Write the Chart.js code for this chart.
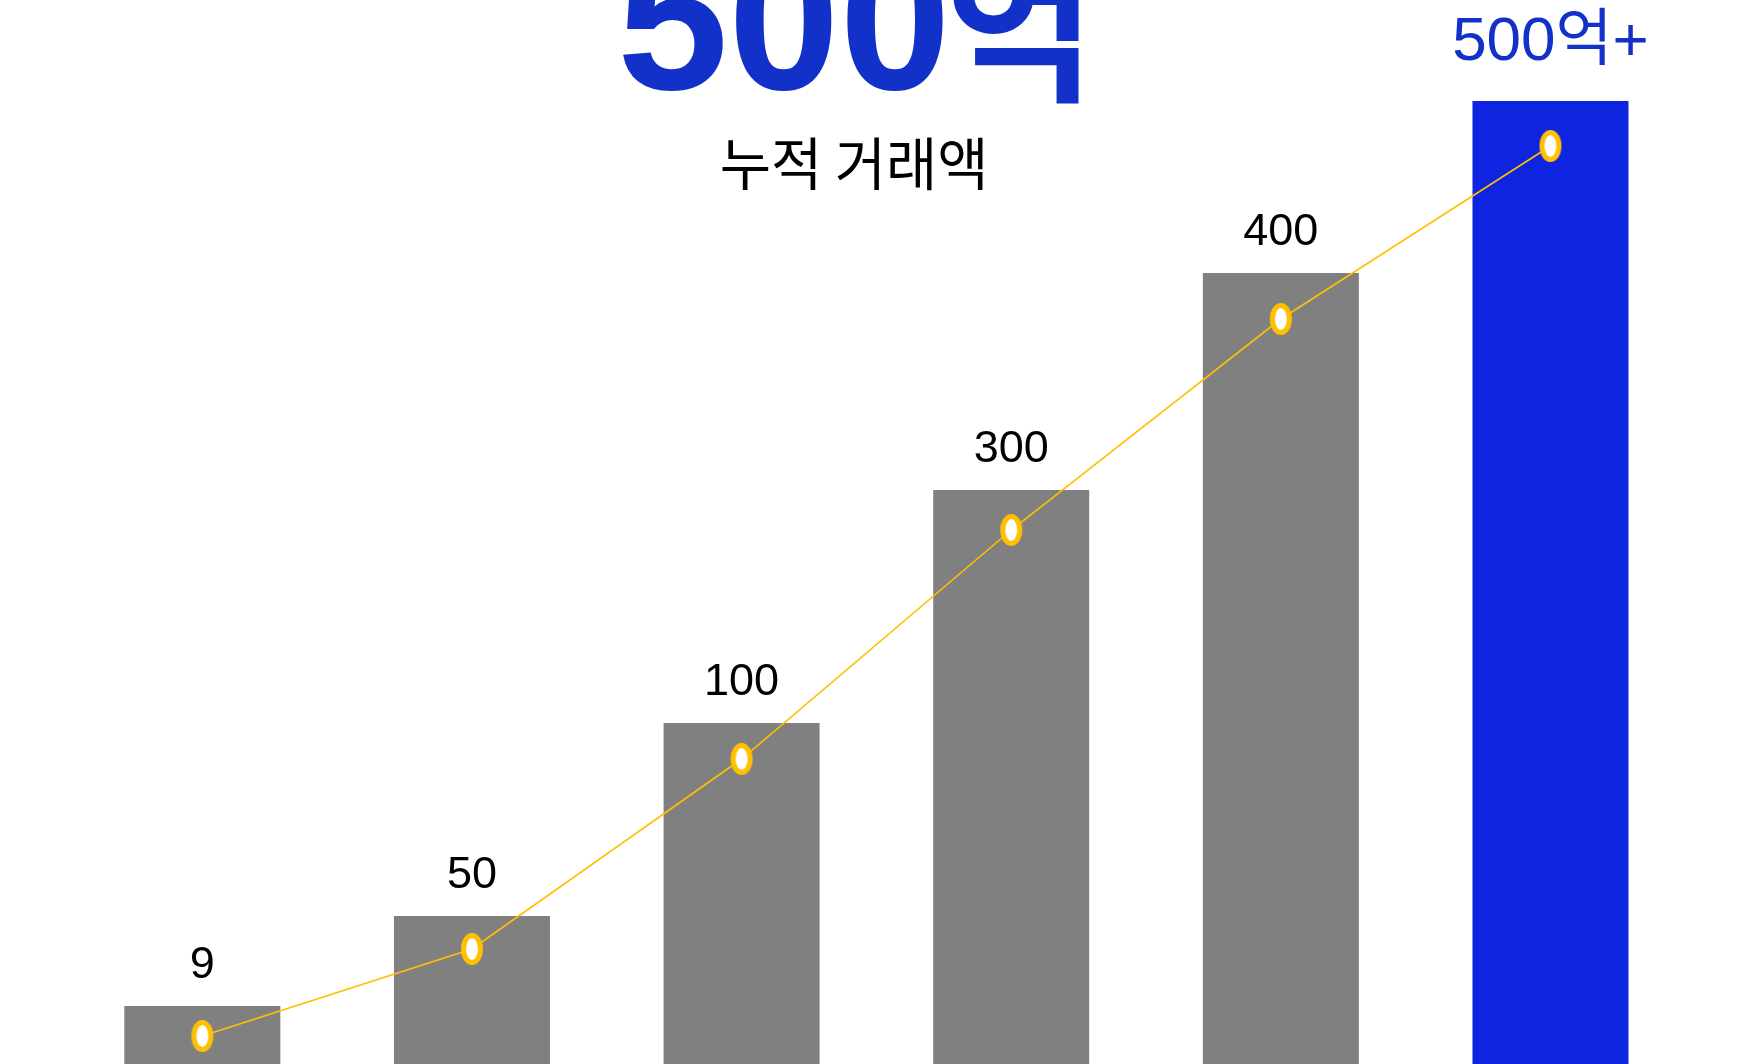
<!DOCTYPE html>
<html>
<head>
<meta charset="utf-8">
<script src="https://cdn.jsdelivr.net/npm/chart.js@4"></script>
<style>
  html, body { margin: 0; padding: 0; background: #ffffff; overflow: hidden; }
  #wrap { width: 1755px; height: 1064px; position: relative; }
  canvas { display: block; }
</style>
</head>
<body>
<div id="wrap"><canvas id="c" width="1755" height="1064"></canvas></div>
<script>
// ---- data ----
const categories = ['1', '2', '3', '4', '5', '6'];
const barHeights = [58, 148, 341, 574, 791, 963];      // bar heights (picture units)
const lineValues = [28, 115, 305, 534, 745, 918];      // trend line points
const barLabels = ['9', '50', '100', '300', '400', '500억+'];
const titleNumber = '500';
const titleUnit = '억';
const subtitleText = '누적 거래액';

// ---- styles ----
const GRAY = '#808080';
const BAR_BLUE = '#0E24E0';
const TEXT_BLUE = '#1131C9';
const YELLOW = '#FFC000';

// ellipse point marker
function makeMarker() {
  const cv = document.createElement('canvas');
  cv.width = 24; cv.height = 36;
  const g = cv.getContext('2d');
  g.beginPath();
  g.ellipse(12, 18, 8.5, 13.5, 0, 0, Math.PI * 2);
  g.fillStyle = '#ffffff';
  g.fill();
  g.lineWidth = 5;
  g.strokeStyle = YELLOW;
  g.stroke();
  return cv;
}
const marker = makeMarker();

const labelPlugin = {
  id: 'barLabels',
  afterDatasetsDraw(chart) {
    const ctx = chart.ctx;
    const meta = chart.getDatasetMeta(1);
    ctx.save();
    ctx.textAlign = 'center';
    ctx.textBaseline = 'alphabetic';
    meta.data.forEach((bar, i) => {
      const last = i === barLabels.length - 1;
      if (last) {
        ctx.font = '62px "Liberation Sans", "Noto Sans CJK KR", sans-serif';
        ctx.fillStyle = TEXT_BLUE;
        ctx.fillText(barLabels[i], bar.x, bar.y - 41);
      } else {
        ctx.font = '45px "Liberation Sans", "Noto Sans CJK KR", sans-serif';
        ctx.fillStyle = '#000000';
        ctx.fillText(barLabels[i], bar.x, bar.y - 28);
      }
    });
    ctx.restore();
  }
};

const titlePlugin = {
  id: 'bigTitle',
  afterDraw(chart) {
    const ctx = chart.ctx;
    ctx.save();
    ctx.textAlign = 'left';
    ctx.textBaseline = 'alphabetic';
    ctx.fillStyle = TEXT_BLUE;
    // big number
    ctx.font = 'bold 200px "Liberation Sans", sans-serif';
    let m = ctx.measureText(titleNumber);
    ctx.fillText(titleNumber, 623 + m.actualBoundingBoxLeft, 90.5 - m.actualBoundingBoxDescent);
    // unit (Hangul)
    ctx.font = 'bold 100px "Noto Sans CJK KR", sans-serif';
    m = ctx.measureText(titleUnit);
    const w100 = m.actualBoundingBoxLeft + m.actualBoundingBoxRight;
    const size = 100 * 126 / w100;
    ctx.font = 'bold ' + size.toFixed(1) + 'px "Noto Sans CJK KR", sans-serif';
    m = ctx.measureText(titleUnit);
    ctx.fillText(titleUnit, 1079 - m.actualBoundingBoxRight, 104 - m.actualBoundingBoxDescent);
    // subtitle
    ctx.fillStyle = '#000000';
    ctx.font = '100px "Noto Sans CJK KR", sans-serif';
    m = ctx.measureText(subtitleText);
    const h100 = m.actualBoundingBoxAscent + m.actualBoundingBoxDescent;
    const sSize = 100 * 52.7 / h100;
    ctx.font = sSize.toFixed(1) + 'px "Noto Sans CJK KR", sans-serif';
    m = ctx.measureText(subtitleText);
    const inkW = m.actualBoundingBoxLeft + m.actualBoundingBoxRight;
    const sx = 261.6 / inkW;
    ctx.translate(721.7, 0);
    ctx.scale(sx, 1);
    ctx.fillText(subtitleText, m.actualBoundingBoxLeft, 191 - m.actualBoundingBoxDescent);
    ctx.restore();
  }
};

new Chart(document.getElementById('c'), {
  data: {
    labels: categories,
    datasets: [
      {
        type: 'line',
        data: lineValues,
        borderColor: YELLOW,
        borderWidth: 1.6,
        tension: 0,
        pointStyle: marker,
        pointRadius: 10,
        pointHoverRadius: 10,
        order: 0,
        clip: false
      },
      {
        type: 'bar',
        data: barHeights,
        backgroundColor: barHeights.map((v, i) => i === barHeights.length - 1 ? BAR_BLUE : GRAY),
        borderWidth: 0,
        barPercentage: 0.5786,
        categoryPercentage: 1,
        order: 1,
        clip: false
      }
    ]
  },
  options: {
    responsive: false,
    animation: false,
    events: [],
    layout: { autoPadding: false, padding: { left: 67.5, right: 69.7, top: 0, bottom: 0 } },
    plugins: { legend: { display: false }, tooltip: { enabled: false }, title: { display: false } },
    scales: {
      x: { display: false, offset: true },
      y: { display: false, min: 0, max: 1064 }
    }
  },
  plugins: [labelPlugin, titlePlugin]
});
</script>
</body>
</html>
